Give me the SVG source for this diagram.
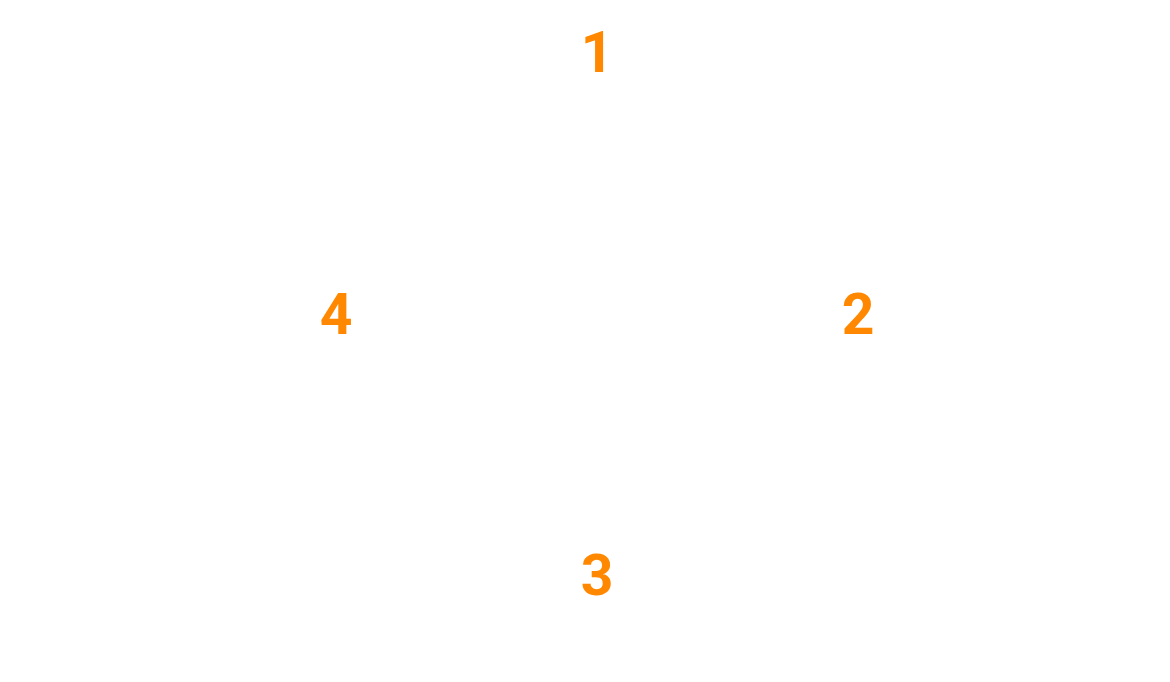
<svg xmlns="http://www.w3.org/2000/svg" width="1170" height="682" viewBox="0 0 1170 682">
<style>
.lbl{font-family:Roboto,"Liberation Sans",sans-serif;font-weight:700;font-size:57px;fill:#FF8800;text-anchor:middle}
</style>
<rect width="1170" height="682" fill="#ffffff"/>
<g id="connectors"></g>
<g id="n1"><text class="lbl" x="597" y="72">1</text></g>
<g id="n2"><text class="lbl" x="858" y="334">2</text></g>
<g id="n3"><text class="lbl" x="597" y="595">3</text></g>
<g id="n4"><text class="lbl" x="336" y="334">4</text></g>
</svg>
